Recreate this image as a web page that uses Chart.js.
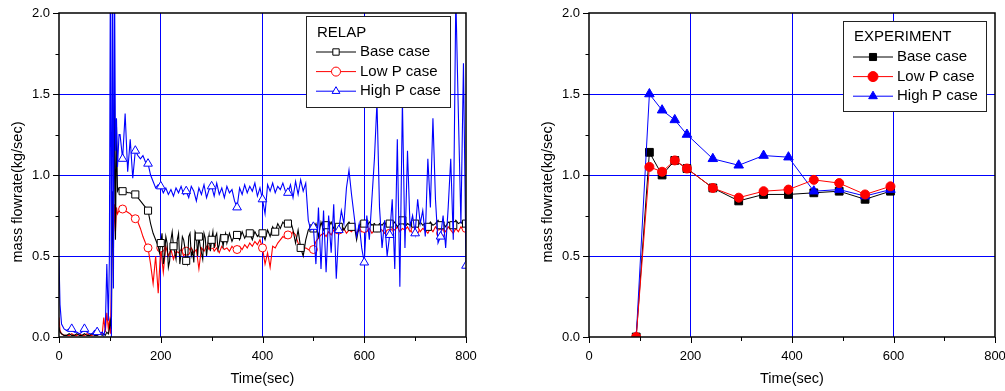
<!DOCTYPE html>
<html>
<head>
<meta charset="utf-8">
<script src="https://cdn.jsdelivr.net/npm/chart.js"></script>
<style>
  body { margin: 0; background: #fff; }
  #relap { position: absolute; left: 0; top: 0; }
  #experiment { position: absolute; left: 530px; top: 0; }
</style>
</head>
<body>
<canvas id="relap" width="530" height="391"></canvas>
<canvas id="experiment" width="475" height="391"></canvas>
<script>
// Données : débit massique (kg/s) en fonction du temps (s)

// RELAP : pas de temps commun aux trois calculs
const relapTime = [
  0, 2, 5, 10, 15, 20, 25, 30, 35, 40, 45, 50, 55, 60, 65, 70, 75, 80, 85, 88,
  91, 94, 97, 99, 101, 103, 105, 107, 109, 111, 113, 115, 118,
  120, 125, 130, 135, 140, 145, 150, 155, 160, 165, 170, 175, 180, 185, 190, 195,
  200, 205, 210, 215, 220, 225, 230, 235, 240, 245, 250, 255, 260, 265, 270, 275, 280, 285, 290, 295,
  300, 305, 310, 315, 320, 325, 330, 335, 340, 345, 350, 355, 360, 365, 370, 375, 380, 385, 390, 395,
  400, 405, 410, 415, 420, 425, 430, 435, 440, 445, 450, 455, 460, 465, 470, 475, 480, 485, 490, 495,
  500, 505, 510, 515, 520, 525, 530, 535, 540, 545, 550, 555, 560, 565, 570, 575, 580, 585, 590, 595,
  600, 605, 610, 615, 620, 625, 630, 635, 640, 645, 650, 655, 660, 665, 670, 675, 680, 685, 690, 695,
  700, 705, 710, 715, 720, 725, 730, 735, 740, 745, 750, 755, 760, 765, 770, 775, 780, 785, 790, 795,
  800
];

const relapBase = [
  0.06, 0.03, 0.02, 0.01, 0.01, 0.02, 0.01, 0.01, 0.02, 0.01, 0.01, 0.02, 0.01, 0.01, 0.02, 0.01, 0.01, 0.02, 0.01, 0.02,
  0.01, 0.03, 0.02, 0.05, 0.10, 0.05, 0.90, 0.50, 1.50, 0.60, 1.30, 0.90, 0.92,
  0.91, 0.90, 0.90, 0.89, 0.89, 0.88, 0.88, 0.86, 0.84, 0.82, 0.80, 0.78, 0.70, 0.64, 0.60, 0.56,
  0.58, 0.45, 0.62, 0.43, 0.60, 0.56, 0.48, 0.64, 0.52, 0.60, 0.47, 0.62, 0.50, 0.46, 0.63, 0.62, 0.52, 0.64, 0.50, 0.63,
  0.60, 0.55, 0.64, 0.57, 0.62, 0.61, 0.58, 0.64, 0.59, 0.63, 0.63, 0.60, 0.65, 0.61, 0.64, 0.64, 0.60, 0.65, 0.62, 0.64,
  0.64, 0.60, 0.66, 0.62, 0.68, 0.65, 0.70, 0.67, 0.71, 0.69, 0.70, 0.72, 0.66, 0.58, 0.66, 0.55, 0.50, 0.60, 0.66, 0.68,
  0.67, 0.70, 0.62, 0.71, 0.66, 0.69, 0.68, 0.71, 0.67, 0.69, 0.68, 0.70, 0.66, 0.69, 0.71, 0.68, 0.70, 0.60, 0.69, 0.70,
  0.70, 0.68, 0.71, 0.69, 0.70, 0.67, 0.70, 0.69, 0.71, 0.68, 0.70, 0.69, 0.71, 0.68, 0.70, 0.72, 0.68, 0.70, 0.69, 0.71,
  0.70, 0.68, 0.71, 0.69, 0.70, 0.68, 0.71, 0.69, 0.70, 0.72, 0.69, 0.70, 0.68, 0.71, 0.70, 0.69, 0.72, 0.70, 0.71, 0.69,
  0.70
];

// Cas de base : échantillons intermédiaires de la zone très bruitée (200-330 s)
const relapBaseExtraTime = [
  197.5, 202.5, 207.5, 212.5, 217.5, 222.5, 227.5, 232.5, 237.5, 242.5, 247.5, 252.5, 257.5, 262.5,
  267.5, 272.5, 277.5, 282.5, 287.5, 292.5, 297.5, 302.5, 307.5, 312.5, 317.5, 322.5, 327.5
];
const relapBaseExtra = [
  0.52, 0.64, 0.50, 0.58, 0.47, 0.65, 0.52, 0.60, 0.45, 0.62, 0.55, 0.45, 0.64, 0.53,
  0.65, 0.50, 0.56, 0.48, 0.61, 0.57, 0.53, 0.65, 0.62, 0.54, 0.63, 0.56, 0.64
];

const relapLowP = [
  0.12, 0.04, 0.02, 0.01, 0.01, 0.01, 0.02, 0.01, 0.01, 0.02, 0.01, 0.01, 0.02, 0.01, 0.01, 0.02, 0.01, 0.02, 0.02, 0.12,
  0.03, 0.15, 0.05, 0.10, 0.02, 0.30, 0.75, 0.60, 0.82, 0.65, 0.80, 0.76, 0.78,
  0.79, 0.79, 0.78, 0.77, 0.76, 0.74, 0.73, 0.71, 0.67, 0.62, 0.58, 0.55, 0.45, 0.33, 0.50, 0.27,
  0.55, 0.40, 0.56, 0.50, 0.54, 0.48, 0.53, 0.52, 0.54, 0.50, 0.53, 0.51, 0.55, 0.52, 0.54, 0.42, 0.55, 0.53, 0.56, 0.54,
  0.57, 0.53, 0.55, 0.52, 0.56, 0.54, 0.55, 0.53, 0.56, 0.54, 0.54, 0.56, 0.54, 0.57, 0.55, 0.58, 0.56, 0.59, 0.57, 0.60,
  0.55, 0.45, 0.52, 0.43, 0.56, 0.55, 0.58, 0.60, 0.62, 0.61, 0.63, 0.62, 0.65, 0.63, 0.58, 0.56, 0.54, 0.55, 0.54, 0.53,
  0.54, 0.59, 0.61, 0.63, 0.64, 0.62, 0.65, 0.63, 0.66, 0.64, 0.66, 0.65, 0.67, 0.64, 0.66, 0.65, 0.67, 0.64, 0.66, 0.65,
  0.67, 0.65, 0.67, 0.64, 0.66, 0.65, 0.67, 0.66, 0.64, 0.66, 0.64, 0.67, 0.66, 0.68, 0.65, 0.67, 0.66, 0.68, 0.65, 0.67,
  0.66, 0.68, 0.65, 0.67, 0.66, 0.64, 0.67, 0.65, 0.68, 0.66, 0.64, 0.67, 0.65, 0.68, 0.66, 0.64, 0.67, 0.65, 0.68, 0.66,
  0.67
];

const relapHighP = [
  0.48, 0.20, 0.08, 0.05, 0.04, 0.05, 0.05, 0.03, 0.03, 0.02, 0.03, 0.05, 0.03, 0.02, 0.02, 0.04, 0.03, 0.02, 0.03, 0.01,
  0.05, 0.45, 0.10, 0.48, 2.30, 0.00, 2.30, 0.30, 2.30, 1.15, 1.35, 1.05, 1.25,
  1.25, 1.10, 1.38, 1.02, 1.22, 0.98, 1.15, 1.12, 1.10, 1.12, 1.08, 1.07, 1.00, 0.96, 0.92, 0.94,
  0.93, 0.89, 0.92, 0.88, 0.91, 0.87, 0.92, 0.89, 0.93, 0.88, 0.90, 0.86, 0.93, 0.90, 0.84, 0.92, 0.88, 0.94, 0.86, 0.91,
  0.93, 0.87, 0.95, 0.88, 0.92, 0.86, 0.93, 0.89, 0.91, 0.84, 0.80, 0.92, 0.88, 0.94, 0.89, 0.93, 0.90, 0.95, 0.87, 0.92,
  0.85, 0.76, 0.94, 0.90, 0.95, 0.89, 0.93, 0.91, 0.95, 0.90, 0.89, 0.94, 0.86, 0.96, 0.88, 0.97, 0.90, 0.95, 0.72, 0.66,
  0.68, 0.45, 0.80, 0.42, 0.78, 0.40, 0.75, 0.52, 0.82, 0.36, 0.66, 0.78, 0.70, 0.92, 1.03, 0.88, 0.75, 0.62, 0.70, 0.55,
  0.46, 0.75, 0.60, 0.85, 1.10, 1.45, 0.80, 0.55, 0.72, 0.50, 0.63, 0.85, 0.42, 1.22, 0.31, 1.46, 0.55, 1.15, 0.68, 0.75,
  0.64, 0.85, 0.70, 0.78, 0.62, 1.10, 0.80, 1.35, 0.85, 0.58, 0.62, 0.75, 0.55, 0.80, 1.10, 0.60, 2.10, 1.38, 0.70, 1.69,
  0.44
];

// Expérience
const expTime = [93, 119, 144, 169, 193, 244, 295, 344, 393, 443, 493, 544, 594];
const expBase = [0, 1.14, 1.00, 1.09, 1.04, 0.92, 0.84, 0.88, 0.88, 0.89, 0.90, 0.85, 0.90];
const expLowP = [0, 1.05, 1.02, 1.09, 1.04, 0.92, 0.86, 0.90, 0.91, 0.97, 0.95, 0.88, 0.93];
const expHighP = [0, 1.50, 1.40, 1.34, 1.25, 1.10, 1.06, 1.12, 1.11, 0.90, 0.91, 0.87, 0.91];

const FONT = '"Liberation Sans", Arial, Helvetica, sans-serif';

const toPoints = (xs, ys) => xs.map((x, i) => ({ x: x, y: ys[i] }));

// marqueurs tous les 25 s, puis tous les 50 s au-delà de "sparseAfter"
function markerRadius(r, start, sparseAfter) {
  return ctx => {
    const t = ctx.raw ? ctx.raw.x : -1;
    if (t < start || t % 25 !== 0) return 0;
    if (t > sparseAfter && t % 50 !== 0) return 0;
    return r;
  };
}

function drawMarker(ctx, style, x, y, r, stroke, fill) {
  ctx.beginPath();
  if (style === 'rect') {
    const s = r * Math.SQRT1_2;
    ctx.rect(x - s, y - s, 2 * s, 2 * s);
  } else if (style === 'triangle') {
    ctx.moveTo(x, y - r);
    ctx.lineTo(x + r * 0.866, y + r * 0.5);
    ctx.lineTo(x - r * 0.866, y + r * 0.5);
    ctx.closePath();
  } else {
    ctx.arc(x, y, r, 0, Math.PI * 2);
  }
  ctx.fillStyle = fill;
  ctx.fill();
  ctx.strokeStyle = stroke;
  ctx.lineWidth = 1;
  ctx.stroke();
}

const isMultiple = (v, step) => Math.abs(v / step - Math.round(v / step)) < 1e-6;

// Cadre, graduations et titres des axes
const axisDecor = {
  id: 'axisDecor',
  afterDatasetsDraw(chart) {
    const { ctx, chartArea: a, scales: { x, y } } = chart;
    ctx.save();
    ctx.strokeStyle = '#000';
    ctx.lineWidth = 1;
    y.ticks.forEach(tk => {
      const py = Math.round(y.getPixelForValue(tk.value)) + 0.5;
      const len = isMultiple(tk.value, 0.5) ? 6 : 3.5;
      ctx.beginPath();
      ctx.moveTo(a.left - len, py);
      ctx.lineTo(a.left, py);
      ctx.stroke();
    });
    x.ticks.forEach(tk => {
      const px = Math.round(x.getPixelForValue(tk.value)) + 0.5;
      const len = isMultiple(tk.value, 200) ? 6 : 4;
      ctx.beginPath();
      ctx.moveTo(px, a.bottom);
      ctx.lineTo(px, a.bottom + len);
      ctx.stroke();
    });
    ctx.lineWidth = 1.5;
    ctx.strokeRect(a.left, a.top, a.right - a.left, a.bottom - a.top);

    ctx.fillStyle = '#000';
    ctx.font = '14.5px ' + FONT;
    ctx.textAlign = 'center';
    ctx.textBaseline = 'middle';
    ctx.fillText('Time(sec)', (a.left + a.right) / 2, a.bottom + 42);
    ctx.translate(a.left - 41, (a.top + a.bottom) / 2 + 17);
    ctx.rotate(-Math.PI / 2);
    ctx.fillText('mass flowrate(kg/sec)', 0, 0);
    ctx.restore();
  }
};

// Légende encadrée à l'intérieur du graphique
const legendBox = {
  id: 'legendBox',
  afterDraw(chart, args, opts) {
    const { ctx, chartArea: a } = chart;
    const x = a.right - opts.right - opts.width;
    const y = a.top + opts.top;
    ctx.save();
    ctx.fillStyle = '#fff';
    ctx.fillRect(x, y, opts.width, opts.height);
    ctx.strokeStyle = '#222';
    ctx.lineWidth = 1;
    ctx.strokeRect(Math.round(x) + 0.5, Math.round(y) + 0.5, opts.width, opts.height);
    ctx.font = '15px ' + FONT;
    ctx.fillStyle = '#000';
    ctx.textAlign = 'left';
    ctx.textBaseline = 'middle';
    ctx.fillText(opts.title, x + 11, y + opts.titleY);
    chart.data.datasets.forEach((ds, i) => {
      const ly = y + opts.firstY + i * 19.6;
      ctx.strokeStyle = ds.borderColor;
      ctx.lineWidth = 1;
      ctx.beginPath();
      ctx.moveTo(x + 10, ly);
      ctx.lineTo(x + 50, ly);
      ctx.stroke();
      drawMarker(ctx, ds.pointStyle, x + 30, ly, opts.markerSize, ds.borderColor, ds.pointBackgroundColor);
      ctx.fillStyle = '#000';
      ctx.fillText(ds.label, x + 54, ly);
    });
    ctx.restore();
  }
};

function scalesConfig() {
  return {
    x: {
      type: 'linear', min: 0, max: 800,
      border: { display: false },
      grid: {
        drawTicks: false,
        lineWidth: 1,
        color: c => (isMultiple(c.tick.value, 200) && c.tick.value > 0 && c.tick.value < 800) ? '#0000ff' : 'rgba(0,0,0,0)'
      },
      ticks: {
        stepSize: 100, autoSkip: false, maxRotation: 0, padding: 12, color: '#000',
        font: { family: FONT, size: 13 },
        callback: v => isMultiple(v, 200) ? String(v) : ''
      },
      afterFit: s => {
        s.height = 54;
        // les libellés extrêmes ne doivent pas rétrécir la zone de tracé
        s.paddingLeft = 0;
        s.paddingRight = 0;
      }
    },
    y: {
      type: 'linear', min: 0, max: 2,
      border: { display: false },
      grid: {
        drawTicks: false,
        lineWidth: 1,
        color: c => (isMultiple(c.tick.value, 0.5) && c.tick.value > 0 && c.tick.value < 2) ? '#0000ff' : 'rgba(0,0,0,0)'
      },
      ticks: {
        stepSize: 0.25, autoSkip: false, padding: 9, color: '#000',
        font: { family: FONT, size: 13 },
        callback: v => isMultiple(v, 0.5) ? v.toFixed(1) : ''
      },
      afterFit: s => {
        s.width = 59;
        s.paddingTop = 0;
        s.paddingBottom = 0;
      }
    }
  };
}

function makeChart(id, datasets, legendOpts, padRight) {
  return new Chart(document.getElementById(id), {
    type: 'line',
    data: { datasets: datasets },
    options: {
      responsive: false,
      devicePixelRatio: 1,
      animation: false,
      layout: { padding: { top: 13, right: padRight, left: 0, bottom: 0 } },
      scales: scalesConfig(),
      plugins: {
        legend: { display: false },
        tooltip: { enabled: false },
        legendBox: legendOpts
      }
    },
    plugins: [axisDecor, legendBox]
  });
}

const relapBasePoints = toPoints(relapTime, relapBase)
  .concat(toPoints(relapBaseExtraTime, relapBaseExtra))
  .sort((p, q) => p.x - q.x);

makeChart('relap', [
  {
    label: 'Base case', data: relapBasePoints, order: 2,
    borderColor: '#000000', borderWidth: 1.1, pointStyle: 'rect', pointBackgroundColor: '#ffffff',
    pointBorderColor: '#000000', pointBorderWidth: 1, pointRadius: markerRadius(5, 120, Infinity)
  },
  {
    label: 'Low P case', data: toPoints(relapTime, relapLowP), order: 3,
    borderColor: '#ff0000', borderWidth: 1.1, pointStyle: 'circle', pointBackgroundColor: '#ffffff',
    pointBorderColor: '#ff0000', pointBorderWidth: 1, pointRadius: markerRadius(4, 120, 200)
  },
  {
    label: 'High P case', data: toPoints(relapTime, relapHighP), order: 1,
    borderColor: '#0000ff', borderWidth: 1.1, pointStyle: 'triangle', pointBackgroundColor: '#ffffff',
    pointBorderColor: '#0000ff', pointBorderWidth: 1, pointRadius: markerRadius(5, 25, 200)
  }
], { title: 'RELAP', right: 16, top: 3, width: 144, height: 91, titleY: 17, firstY: 36, markerSize: 4.5 }, 64);

makeChart('experiment', [
  {
    label: 'Base case', data: toPoints(expTime, expBase), order: 3,
    borderColor: '#000000', borderWidth: 1, pointStyle: 'rect', pointBackgroundColor: '#000000',
    pointBorderColor: '#000000', pointRadius: 5.5
  },
  {
    label: 'Low P case', data: toPoints(expTime, expLowP), order: 1,
    borderColor: '#ff0000', borderWidth: 1, pointStyle: 'circle', pointBackgroundColor: '#ff0000',
    pointBorderColor: '#ff0000', pointRadius: 4.5
  },
  {
    label: 'High P case', data: toPoints(expTime, expHighP), order: 2,
    borderColor: '#0000ff', borderWidth: 1, pointStyle: 'triangle', pointBackgroundColor: '#0000ff',
    pointBorderColor: '#0000ff', pointRadius: 5.5
  }
], { title: 'EXPERIMENT', right: 9, top: 8, width: 143, height: 90, titleY: 16, firstY: 36, markerSize: 5 }, 10);
</script>
</body>
</html>
